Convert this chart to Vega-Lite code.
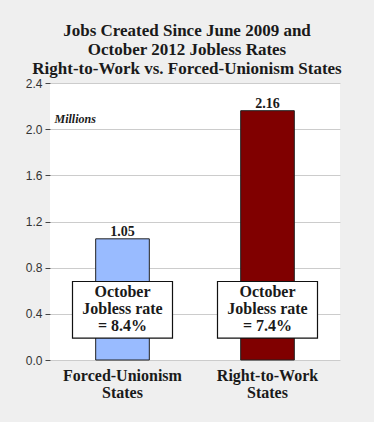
{
  "$schema": "https://vega.github.io/schema/vega-lite/v6.json",
  "width": 290,
  "height": 277,
  "autosize": {"type": "none"},
  "padding": {"left": 50, "top": 83, "right": 34, "bottom": 62},
  "background": "#efefef",
  "title": {
    "text": ["Jobs Created Since June 2009 and", "October 2012 Jobless Rates", "Right-to-Work vs. Forced-Unionism States"],
    "font": "Liberation Serif",
    "fontSize": 17,
    "fontWeight": "bold",
    "color": "#1a1a1a",
    "anchor": "middle",
    "dx": -8,
    "offset": -1,
    "lineHeight": 19
  },
  "config": {
    "view": {"fill": "white", "stroke": null}
  },
  "data": {
    "values": [
      {"group": "Forced-Unionism States", "jobs": 1.05, "label": "1.05", "box": "October\nJobless rate\n= 8.4%"},
      {"group": "Right-to-Work States", "jobs": 2.16, "label": "2.16", "box": "October\nJobless rate\n= 7.4%"}
    ]
  },
  "encoding": {
    "x": {
      "field": "group",
      "type": "nominal",
      "sort": null,
      "scale": {"paddingInner": 0.63, "paddingOuter": 0.315},
      "axis": {
        "title": null,
        "labelAngle": 0,
        "labelExpr": "split(datum.label, ' ')",
        "labelFont": "Liberation Serif",
        "labelFontSize": 16,
        "labelFontWeight": "bold",
        "labelColor": "#1a1a1a",
        "labelPadding": 7,
        "labelLineHeight": 17,
        "ticks": false,
        "domain": false
      }
    }
  },
  "layer": [
    {
      "mark": {"type": "bar", "stroke": "#222222", "strokeWidth": 1},
      "encoding": {
        "y": {
          "field": "jobs",
          "type": "quantitative",
          "scale": {"domain": [0, 2.4], "nice": false},
          "axis": {
            "values": [0, 0.4, 0.8, 1.2, 1.6, 2.0, 2.4],
            "format": ".1f",
            "title": "Millions",
            "titleAngle": 0,
            "titleX": 4,
            "titleY": 42,
            "titleAlign": "left",
            "titleFont": "Liberation Serif",
            "titleFontStyle": "italic",
            "titleFontWeight": "bold",
            "titleFontSize": 12,
            "titleColor": "#1a1a1a",
            "labelFont": "Liberation Sans",
            "labelFontSize": 12,
            "labelColor": "#333333",
            "tickColor": "#444444",
            "tickSize": 5,
            "domain": false,
            "gridColor": "#cccccc",
            "labelPadding": 3
          }
        },
        "color": {
          "field": "group",
          "type": "nominal",
          "scale": {"range": ["#99bbff", "#800000"]},
          "legend": null
        }
      }
    },
    {
      "mark": {"type": "text", "font": "Liberation Serif", "fontWeight": "bold", "fontSize": 14, "baseline": "alphabetic", "dy": -3, "color": "#1a1a1a"},
      "encoding": {
        "y": {"field": "jobs", "type": "quantitative"},
        "text": {"field": "label"}
      }
    },
    {
      "mark": {"type": "bar", "width": 100, "fill": "white", "stroke": "#111111", "strokeWidth": 1.2},
      "encoding": {
        "y": {"datum": 0.19},
        "y2": {"datum": 0.68}
      }
    },
    {
      "mark": {"type": "text", "font": "Liberation Serif", "fontWeight": "bold", "fontSize": 16, "lineBreak": "\n", "lineHeight": 17, "baseline": "middle", "align": "center", "color": "#1a1a1a"},
      "encoding": {
        "y": {"datum": 0.585},
        "text": {"field": "box"}
      }
    }
  ]
}
